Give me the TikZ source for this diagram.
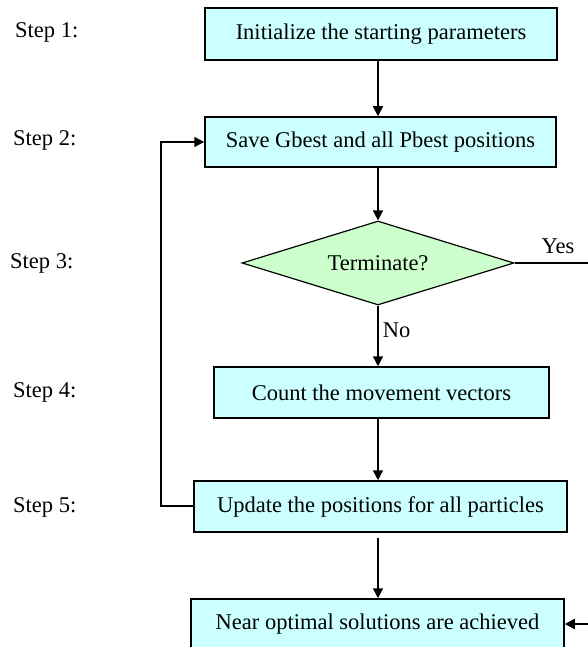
\documentclass[tikz,border=0pt]{standalone}
\usepackage{fontspec}
\setmainfont{Liberation Serif}
\usetikzlibrary{shapes.geometric,arrows.meta}
\definecolor{boxcyan}{HTML}{CCFFFF}
\definecolor{diagreen}{HTML}{CCFFCC}
\begin{document}
\begin{tikzpicture}[x=1pt,y=-1pt,
  every node/.style={font=\fontsize{22.5}{27}\selectfont},
  stepbox/.style={draw=black,line width=1.5pt,fill=boxcyan,rectangle,inner sep=0pt},
  decbox/.style={draw=black,line width=1.2pt,fill=diagreen,diamond,inner sep=0pt,aspect=3.24,minimum width=272pt,minimum height=84pt},
  arr/.style={line width=1.5pt,-{Triangle[length=10pt,width=10pt]}},
  ln/.style={line width=1.5pt},
  lab/.style={anchor=west,inner sep=0pt}]
\useasboundingbox (0,0) rectangle (587,647);
\fill[white] (0,0) rectangle (587,647);
% step labels
\node[lab] (s1) at (15,32) {Step 1:};
\node[lab] (s2) at (13,140) {Step 2:};
\node[lab] (s3) at (10,263) {Step 3:};
\node[lab] (s4) at (13,392) {Step 4:};
\node[lab] (s5) at (13,507) {Step 5:};
% boxes
\node[stepbox,minimum width=352pt,minimum height=52pt] (b1) at (381,34) {Initialize the starting parameters};
\node[stepbox,minimum width=351pt,minimum height=50pt] (b2) at (380.5,142) {Save Gbest and all Pbest positions};
\node[decbox] (d) at (378,263) {Terminate?};
\node[stepbox,minimum width=335pt,minimum height=51pt] (b4) at (381.5,392.5) {Count the movement vectors};
\node[stepbox,minimum width=373pt,minimum height=51pt] (b5) at (380.5,506.5) {Update the positions for all particles};
\node[stepbox,minimum width=373pt,minimum height=50pt] (b6) at (377.5,624) {Near optimal solutions are achieved};
% connectors
\coordinate (c1) at (378,60);
\draw[arr] (b1.south -| c1) -- (b2.north -| c1);
\draw[arr] (b2.south -| d.north) -- (d.north);
\draw[arr] (d.south) -- node[right,inner sep=4pt,pos=0.4] (no) {No} (b4.north -| d.south);
\draw[arr] (b4.south -| d.south) -- (b5.north -| d.south);
\draw[arr,shorten <=5pt] (b5.south -| d.south) -- (b6.north -| d.south);
\coordinate (lp) at (161,506);
\draw[arr] (b5.west |- lp) -- (lp) |- (b2.west);
\coordinate (yr) at (600,263);
\draw[ln] (d.east) -- (yr);
\node (yes) at (558,246) {Yes};
\draw[arr] (yr) |- (b6.east);
\end{tikzpicture}
\end{document}
